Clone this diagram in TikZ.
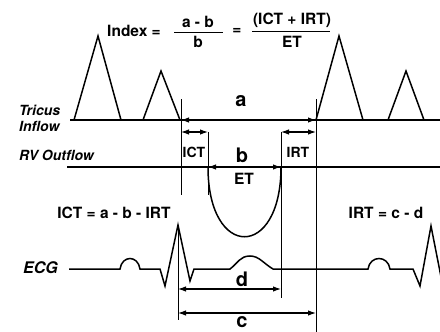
\documentclass[tikz,border=0pt]{standalone}
\usepackage{fontspec}
\setmainfont{TeX Gyre Heros}
\usetikzlibrary{arrows.meta}
\begin{document}
\begin{tikzpicture}[x=1pt,y=-1pt,
  wave/.style={line width=1.5pt, line join=miter},
  base/.style={line width=1.4pt},
  guide/.style={line width=0.9pt},
  dimline/.style={line width=1.1pt, {Latex[length=8pt,width=5.5pt]}-{Latex[length=8pt,width=5.5pt]}},
  lbl/.style={font=\bfseries\fontsize{15.5}{15.5}\selectfont, inner sep=0pt},
  small/.style={font=\bfseries\fontsize{14}{14}\selectfont, inner sep=0pt},
  big/.style={font=\bfseries\fontsize{20}{20}\selectfont, inner sep=0pt},
  side/.style={font=\bfseries\itshape\fontsize{14}{16}\selectfont, inner sep=0pt, align=left, anchor=west},
]
\path[use as bounding box, fill=white] (0,0) rectangle (440,332);

% formula at top
\node[lbl] (index) at (134,31) {Index =};
\node[lbl] (num1) at (198,22) {a - b};
\coordinate (bar1l) at (174,32);
\coordinate (bar1r) at (223,32);
\draw[line width=1pt] (bar1l) -- (bar1r);
\node[lbl] (den1) at (198,42) {b};
\node[lbl] (eq2) at (237,31) {=};
\node[lbl] (num2) at (292,20) {(ICT + IRT)};
\coordinate (bar2l) at (252,31);
\coordinate (bar2r) at (330,31);
\draw[line width=1pt] (bar2l) -- (bar2r);
\node[lbl] (den2) at (292,42) {ET};

% side labels
\node[side] (tric) at (19,118) {Tricus\\Inflow};
\node[side] (rvo) at (19,155) {RV Outflow};
\node[side, font=\bfseries\itshape\fontsize{16}{16}\selectfont] (ecg) at (23,268) {ECG};

% tricuspid inflow
\draw[base] (70,120) -- (442,120);
\draw[wave] (74,120) -- (98,36) -- (121,120);
\draw[wave] (143,120) -- (161,71) -- (180,120);
\draw[wave] (316,120) -- (339,36) -- (363,120);
\draw[wave] (388,120) -- (406,71) -- (424,120);

% RV outflow
\draw[base] (67,167) -- (442,167);
\draw[wave] (208,167) .. controls (208,260) and (281,260) .. (281,167);

% ECG
\draw[wave] (69,269) -- (120,269) .. controls (122,255) and (138,255) .. (140,269)
  -- (160,269) -- (165,286) -- (178,225) -- (190,281) -- (194,269) -- (230,269)
  .. controls (238,263) and (240,256) .. (250,256) .. controls (259,256) and (263,263) .. (273,269)
  -- (368,269) .. controls (370,255) and (388,255) .. (390,269)
  -- (413,269) -- (420,286) -- (431,226) -- (444,292);

% guide lines
\coordinate (gA1) at (181,99);  \coordinate (gA2) at (181,195);
\coordinate (gB1) at (208,132); \coordinate (gB2) at (208,195);
\coordinate (gC1) at (281,132); \coordinate (gC2) at (281,298);
\coordinate (gD1) at (316,99);  \coordinate (gD2) at (316,332);
\coordinate (gE1) at (178,225); \coordinate (gE2) at (178,320);
\draw[guide] (gA1) -- (gA2);
\draw[guide] (gB1) -- (gB2);
\draw[guide] (gC1) -- (gC2);
\draw[guide] (gD1) -- (gD2);
\draw[guide] (gE1) -- (gE2);

% dimension arrows
\coordinate (a1) at (181,120);  \coordinate (a2) at (316,120);
\coordinate (i1) at (181,132);  \coordinate (i2) at (208,132);
\coordinate (r1) at (281,132);  \coordinate (r2) at (316,132);
\coordinate (b1) at (208,167);  \coordinate (b2) at (281,167);
\coordinate (d1) at (178,289);  \coordinate (d2) at (281,289);
\coordinate (c1) at (178,313);  \coordinate (c2) at (316,313);
\draw[dimline] (a1) -- (a2);
\draw[dimline] (i1) -- (i2);
\draw[dimline] (r1) -- (r2);
\draw[dimline] (b1) -- (b2);
\draw[dimline] (d1) -- (d2);
\draw[dimline] (c1) -- (c2);

% labels
\node[big] (la) at (241,101) {a};
\node[big] (lb) at (242,155) {b};
\node[lbl] (let) at (244,179) {ET};
\node[small] (lict) at (194,152) {ICT};
\node[small] (lirt) at (298,152) {IRT};
\node[big] (ld) at (242,279) {d};
\node[big] (lc) at (242,322) {c};
\node[lbl] (f1) at (114,213) {ICT = a - b - IRT};
\node[lbl] (f2) at (386,213) {IRT = c - d};
\end{tikzpicture}
\end{document}
